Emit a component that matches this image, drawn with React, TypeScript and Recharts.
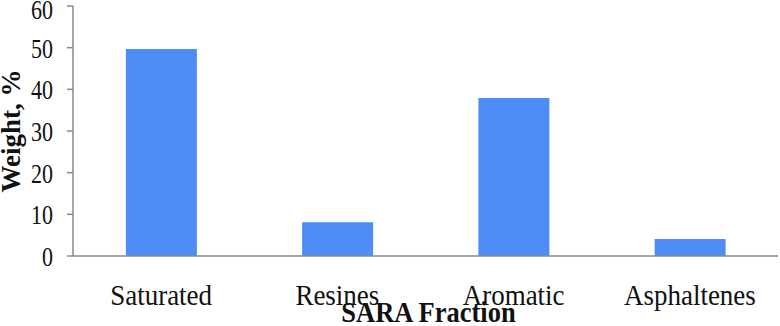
import { BarChart, Bar, XAxis, YAxis } from "recharts";

const FRACTIONS = ["Saturated", "Resines", "Aromatic", "Asphaltenes"];
const WEIGHTS = [49.7, 8.1, 37.9, 4.1];
const Y_TICKS = [0, 10, 20, 30, 40, 50, 60];
const EDGE_TICKS = [0, 1, 2, 3, 4];

const BAR_COLOR = "#4f8df6";
const AXIS_COLOR = "#8a8a8a";
const FONT = "'Liberation Serif', 'Times New Roman', serif";

const data = FRACTIONS.map((name, i) => ({ name, value: WEIGHTS[i] }));

const YTick = ({ x, y, payload }: any) => (
  <text
    transform={`translate(${x}, ${y + 10}) scale(1, 1.25)`}
    textAnchor="end"
    fontFamily={FONT}
    fontSize={22}
    fill="#111"
  >
    {payload.value}
  </text>
);

const XTick = ({ x, y, payload }: any) => (
  <text
    transform={`translate(${x}, ${y + 39}) scale(1, 1.1)`}
    textAnchor="middle"
    fontFamily={FONT}
    fontSize={27}
    fill="#111"
  >
    {payload.value}
  </text>
);

const XLabel = ({ viewBox }: any) => (
  <text
    transform={`translate(${viewBox.x + viewBox.width / 2 + 3}, ${viewBox.y + 58}) scale(1, 1.1)`}
    textAnchor="middle"
    fontFamily={FONT}
    fontWeight="bold"
    fontSize={26.5}
    fill="#111"
  >
    SARA Fraction
  </text>
);

const YLabel = ({ viewBox }: any) => (
  <text
    transform={`translate(20, ${viewBox.y + viewBox.height / 2}) rotate(-90)`}
    textAnchor="middle"
    fontFamily={FONT}
    fontWeight="bold"
    fontSize={27}
    fill="#111"
  >
    Weight, %
  </text>
);

export default function App() {
  return (
    <div style={{ position: "absolute", left: 0, top: 0 }}>
      <BarChart
        width={780}
        height={326}
        data={data}
        margin={{ top: 6, right: 2, left: 0, bottom: 0 }}
        barCategoryGap="30%"
      >
        <XAxis
          xAxisId="a"
          type="number"
          domain={[0, 4]}
          ticks={EDGE_TICKS}
          height={8}
          tick={false}
          tickSize={8}
          tickLine={{ stroke: AXIS_COLOR, strokeWidth: 1.5 }}
          axisLine={{ stroke: AXIS_COLOR, strokeWidth: 1.5 }}
          allowDataOverflow
        />
        <XAxis
          xAxisId="b"
          dataKey="name"
          height={62}
          tickLine={false}
          axisLine={false}
          tickSize={0}
          tickMargin={2}
          tick={<XTick />}
          interval={0}
          label={<XLabel />}
        />
        <YAxis
          width={73}
          domain={[0, 60]}
          ticks={Y_TICKS}
          tickSize={6}
          tickMargin={14}
          tick={<YTick />}
          tickLine={{ stroke: AXIS_COLOR, strokeWidth: 1.5 }}
          axisLine={{ stroke: AXIS_COLOR, strokeWidth: 1.5 }}
          label={<YLabel />}
        />
        <Bar xAxisId="b" dataKey="value" fill={BAR_COLOR} isAnimationActive={false} />
      </BarChart>
    </div>
  );
}
